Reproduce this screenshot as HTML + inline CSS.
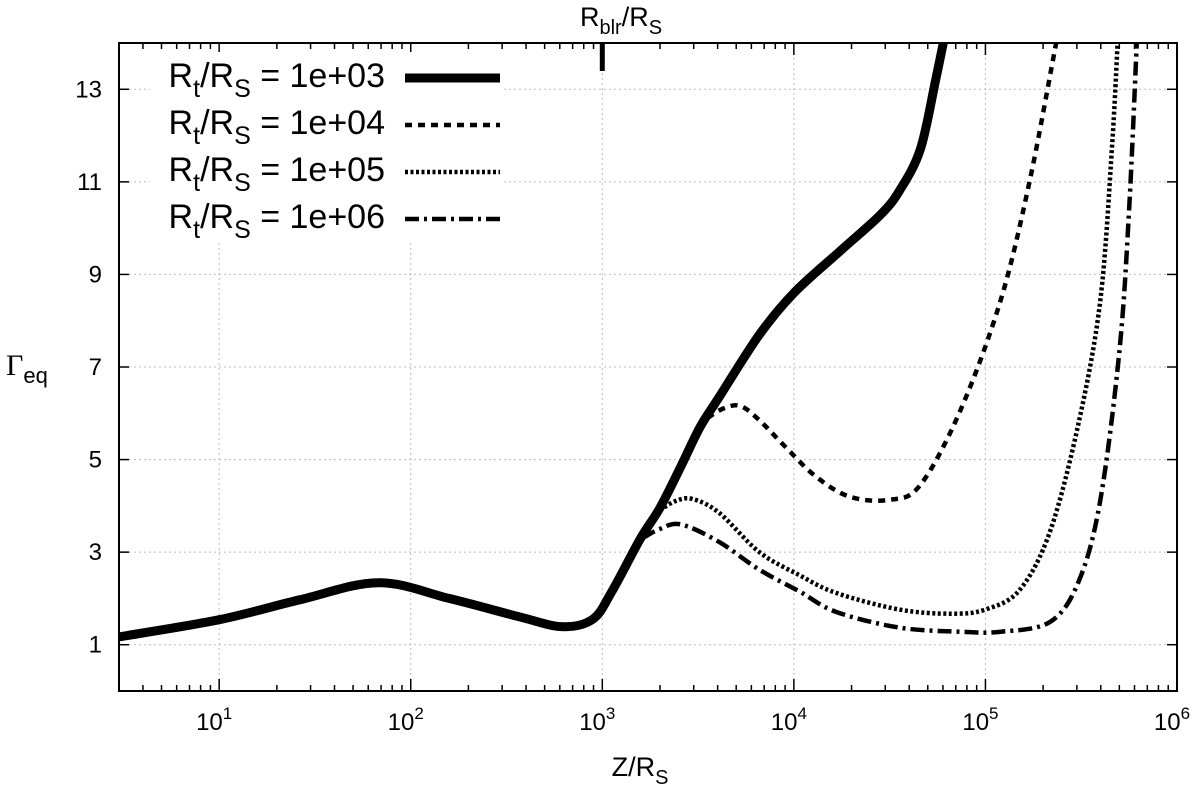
<!DOCTYPE html>
<html><head><meta charset="utf-8"><style>
body{margin:0;background:#fff}
svg{display:block;font-family:"Liberation Sans",sans-serif}
</style></head><body>
<svg id="c" width="1200" height="785" viewBox="0 0 1200 785"></svg>
<script>
const xTickExps=[1,2,3,4,5,6];
const yTicks=[1,3,5,7,9,11,13];
const legendLabels=["1e+03","1e+04","1e+05","1e+06"];
const s1X=[0.478,1.0,1.42,1.83,2.2,2.57,2.79,2.95,3.05,3.2,3.3,3.41,3.51,3.61,3.82,4.0,4.24,4.45,4.55,4.66,4.74,4.78];
const s1Y=[1.17,1.54,1.97,2.34,2.0,1.6,1.39,1.55,2.15,3.3,3.95,4.85,5.7,6.35,7.7,8.6,9.5,10.28,10.8,11.7,13.2,14];
const s2X=[3.55,3.63,3.72,3.82,3.95,4.11,4.29,4.5,4.66,4.87,5.08,5.23,5.36,5.37];
const s2Y=[5.9,6.1,6.16,5.85,5.3,4.65,4.2,4.13,4.45,6.07,8.45,11.0,13.8,14];
const s3X=[3.3,3.38,3.47,3.61,3.82,4.03,4.22,4.55,4.82,5.0,5.18,5.34,5.49,5.6,5.66,5.69];
const s3Y=[3.9,4.1,4.15,3.85,3.0,2.5,2.12,1.76,1.67,1.76,2.19,3.48,5.86,8.45,11.7,14];
const s4X=[3.21,3.3,3.41,3.61,3.82,4.03,4.22,4.55,4.87,5.08,5.34,5.49,5.6,5.7,5.75,5.79];
const s4Y=[3.3,3.5,3.6,3.22,2.62,2.15,1.71,1.37,1.28,1.28,1.5,2.4,4.13,7.37,10.4,14];

const L=119,R=1177,T=43,B=691,XMIN=Math.log10(3),XMAX=6,YMIN=0,YMAX=14;
const sx=lx=>L+(lx-XMIN)/(XMAX-XMIN)*(R-L);
const sy=v=>B-(v-YMIN)/(YMAX-YMIN)*(B-T);
const svg=document.getElementById('c');
const NS='http://www.w3.org/2000/svg';
function mk(tag,attrs,parent){const e=document.createElementNS(NS,tag);for(const k in attrs)e.setAttribute(k,attrs[k]);(parent||svg).appendChild(e);return e;}

const grid=mk('g',{});


xTickExps.forEach(e=>mk('line',{x1:sx(e),x2:sx(e),y1:T,y2:B,stroke:'#bbb','stroke-width':1,'stroke-dasharray':'2,3'},grid));
yTicks.forEach(v=>mk('line',{x1:L,x2:R,y1:sy(v),y2:sy(v),stroke:'#bbb','stroke-width':1,'stroke-dasharray':'2,3'},grid));

const ticks=mk('g',{stroke:'#000','stroke-width':1.5});


for(let e=0;e<6;e++)for(let m=1;m<10;m++){const lx=e+Math.log10(m);if(lx<XMIN||lx>XMAX)continue;const len=m===1?12:6;const x=sx(lx);
mk('line',{x1:x,x2:x,y1:B,y2:B-len},ticks);mk('line',{x1:x,x2:x,y1:T,y2:T+len},ticks);}
yTicks.forEach(v=>{mk('line',{x1:L,x2:L+10,y1:sy(v),y2:sy(v)},ticks);mk('line',{x1:R,x2:R-10,y1:sy(v),y2:sy(v)},ticks);});

xTickExps.forEach(e=>{const t=mk('text',{x:sx(e)-5,y:730,'font-size':24,'text-anchor':'middle'});t.innerHTML='10<tspan dy="-11" font-size="17">'+e+'</tspan>';

});
yTicks.forEach(v=>{const t=mk('text',{x:102,y:sy(v)+8,'font-size':24,'text-anchor':'end'});t.textContent=v;

});

const xt=mk('text',{x:640,y:776,'font-size':27,'text-anchor':'middle'});xt.innerHTML='Z/R<tspan dy="8" font-size="20">S</tspan>';


const yt=mk('text',{x:6,y:375,'font-size':30,'font-family':'Liberation Serif'});yt.innerHTML='Γ<tspan dy="8" font-size="22" font-family="Liberation Sans">eq</tspan>';


const bt=mk('text',{x:621,y:26,'font-size':27,'text-anchor':'middle'});bt.innerHTML='R<tspan dy="8" font-size="20">blr</tspan><tspan dy="-8">/R</tspan><tspan dy="8" font-size="20">S</tspan>';


const bm=mk('line',{x1:sx(3),x2:sx(3),y1:T,y2:71,stroke:'#000','stroke-width':5});



function path(xs,ys){const p=xs.map((x,i)=>[sx(x),sy(ys[i])]);let d='M'+p[0][0]+','+p[0][1];
for(let i=0;i<p.length-1;i++){const p0=p[i-1]||p[i],p1=p[i],p2=p[i+1],p3=p[i+2]||p2;
d+=' C'+(p1[0]+(p2[0]-p0[0])/6)+','+(p1[1]+(p2[1]-p0[1])/6)+' '+(p2[0]-(p3[0]-p1[0])/6)+','+(p2[1]-(p3[1]-p1[1])/6)+' '+p2[0]+','+p2[1];}return d;}
const clip=mk('clipPath',{id:'cp'});mk('rect',{x:L,y:T,width:R-L,height:B-T},clip);
const styles=[{w:9,da:''},{w:4.5,da:'7,6'},{w:4.5,da:'3,2.5'},{w:4.5,da:'14,5,3,5'}];
const series=[[s4X,s4Y],[s3X,s3Y],[s2X,s2Y],[s1X,s1Y]];
const names=['series-1e6','series-1e5','series-1e4','series-1e3'];
series.forEach((s,i)=>{const st=styles[3-i];const p=mk('path',{d:path(s[0],s[1]),fill:'none',stroke:'#000','stroke-width':st.w,'stroke-dasharray':st.da,'stroke-linejoin':'round','clip-path':'url(#cp)'});

});

const leg=mk('g',{});


mk('rect',{x:150,y:52,width:352,height:190,fill:'#fff'},leg);
legendLabels.forEach((lab,i)=>{const y=78+i*47;
const t=mk('text',{x:385,y:y+9,'font-size':34,'text-anchor':'end'},leg);t.innerHTML='R<tspan dy="10" font-size="25">t</tspan><tspan dy="-10">/R</tspan><tspan dy="10" font-size="25">S</tspan><tspan dy="-10"> = '+lab+'</tspan>';


const st=styles[i];mk('line',{x1:405,x2:500,y1:y,y2:y,stroke:'#000','stroke-width':st.w,'stroke-dasharray':st.da},leg);});

const fr=mk('rect',{x:L,y:T,width:R-L,height:B-T,fill:'none',stroke:'#000','stroke-width':2});


</script>
</body></html>
